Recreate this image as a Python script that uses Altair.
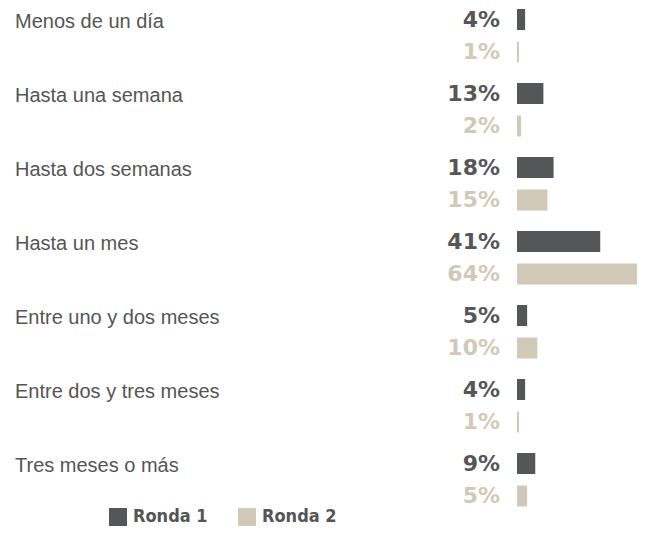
import altair as alt
import pandas as pd

categories = ["Menos de un día", "Hasta una semana", "Hasta dos semanas", "Hasta un mes",
              "Entre uno y dos meses", "Entre dos y tres meses", "Tres meses o más"]
rondas = ["Ronda 1", "Ronda 2"]
ronda1 = [4, 13, 18, 41, 5, 4, 9]
ronda2 = [1, 2, 15, 64, 10, 1, 5]

DARK = "#555658"
BEIGE = "#D1C9B8"

rows = []
for c, v1, v2 in zip(categories, ronda1, ronda2):
    rows.append({"cat": c, "ronda": "Ronda 1", "v": v1, "lbl": f"{v1}%"})
    rows.append({"cat": c, "ronda": "Ronda 2", "v": v2, "lbl": f"{v2}%"})
df = pd.DataFrame(rows)

yenc = alt.Y("cat:N", sort=categories, axis=None,
             scale=alt.Scale(range=[1, 519], paddingInner=0, paddingOuter=0))
yoff = alt.YOffset("ronda:N", sort=rondas,
                   scale=alt.Scale(range=[0, 74], paddingInner=0.354, paddingOuter=0.315, align=0))
color = alt.Color("ronda:N", sort=rondas,
                  scale=alt.Scale(domain=rondas, range=[DARK, BEIGE]),
                  legend=alt.Legend(orient="none", legendX=101, legendY=500, direction="horizontal",
                                    title=None, symbolType="square", symbolSize=324,
                                    symbolStrokeWidth=0,
                                    labelFont="Liberation Sans Narrow, DejaVu Sans Condensed, sans-serif",
                                    labelFontWeight="bold", labelFontSize=18, labelColor="#555555",
                                    labelOffset=6, columnPadding=30, padding=0))

base = alt.Chart(df)

bars = base.mark_bar(binSpacing=0).encode(
    x=alt.X("v:Q", axis=None, scale=alt.Scale(domain=[0, 100], range=[509, 712])),
    y=yenc, yOffset=yoff, color=color,
)

pct = base.mark_text(align="right", baseline="middle", font="DejaVu Sans", fontWeight="bold",
                     fontSize=22).encode(
    x=alt.value(492), y=yenc, yOffset=yoff, text="lbl:N",
    color=alt.Color("ronda:N", scale=alt.Scale(domain=rondas, range=[DARK, BEIGE]), legend=None),
)

cats = base.transform_filter(alt.datum.ronda == "Ronda 1").mark_text(
    align="left", baseline="middle", font="Liberation Sans", fontSize=20, color="#555555", dy=2).encode(
    x=alt.value(7), y=yenc, yOffset=yoff, text="cat:N",
)

chart = alt.layer(bars, pct, cats).properties(
    width=629, height=520, autosize=alt.AutoSizeParams(type="none"), padding=0,
).configure_view(stroke=None)

chart.save("out.html", embed_options={"renderer": "svg", "actions": False})
